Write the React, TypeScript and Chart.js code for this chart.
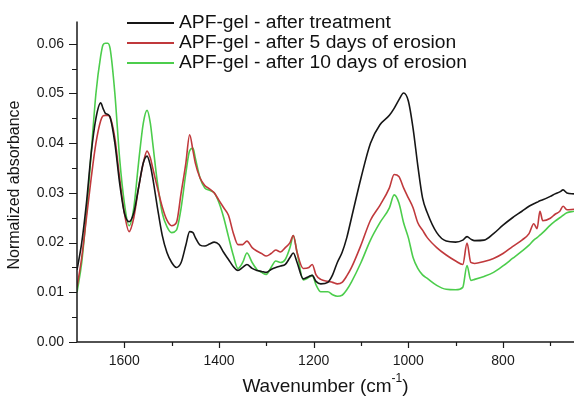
import React, { useEffect, useRef } from "react";
import { Chart, registerables } from "chart.js";

Chart.register(...registerables);

const wavenumbers = [
  1700, 1690, 1680, 1670, 1660, 1650, 1645, 1640, 1635, 1630, 1620, 1610, 1600, 1590, 1580, 1570,
  1560, 1552, 1545, 1540, 1530, 1520, 1510, 1500, 1490, 1480, 1470, 1462, 1455, 1450, 1440, 1430,
  1420, 1410, 1400, 1390, 1380, 1370, 1360, 1350, 1341, 1330, 1320, 1310, 1300, 1290, 1280, 1270,
  1260, 1250, 1243, 1235, 1222, 1210, 1203, 1195, 1185, 1170, 1160, 1150, 1140, 1130, 1120, 1100,
  1080, 1060, 1040, 1030, 1020, 1010, 1000, 990, 980, 970, 960, 940, 920, 900, 885, 876,
  868, 860, 840, 820, 800, 780, 760, 745, 735, 728, 722, 716, 700, 690, 680, 673,
  665, 650,
];

const afterTreatment = [
  0.0145, 0.02, 0.028, 0.038, 0.045, 0.0481, 0.047, 0.046, 0.0458, 0.0452, 0.04, 0.032, 0.026, 0.0242, 0.026, 0.031,
  0.036, 0.0374, 0.0355, 0.033, 0.027, 0.0215, 0.018, 0.016, 0.015, 0.016, 0.0195, 0.0222, 0.022, 0.021, 0.0195, 0.0193,
  0.0197, 0.0201, 0.0196, 0.018, 0.0166, 0.0152, 0.0144, 0.015, 0.0156, 0.0148, 0.0144, 0.0142, 0.014, 0.0146, 0.015, 0.0153,
  0.0156, 0.017, 0.0179, 0.016, 0.0127, 0.0132, 0.0134, 0.0122, 0.0117, 0.012, 0.0135, 0.016, 0.018, 0.021, 0.025, 0.033,
  0.04, 0.0437, 0.0456, 0.047, 0.0487, 0.0501, 0.0485, 0.043, 0.0355, 0.029, 0.026, 0.022, 0.0203, 0.0201, 0.0205, 0.0212,
  0.0207, 0.0204, 0.0205, 0.0218, 0.0235, 0.025, 0.0263, 0.0273, 0.0278, 0.0281, 0.0284, 0.0286, 0.0293, 0.0298, 0.0302, 0.0306,
  0.03, 0.0298,
];

const after5Days = [
  0.011, 0.017, 0.025, 0.033, 0.04, 0.0445, 0.0455, 0.0456, 0.0456, 0.0452, 0.041, 0.033, 0.026, 0.0222, 0.025, 0.031,
  0.036, 0.0384, 0.037, 0.035, 0.031, 0.0272, 0.0245, 0.0234, 0.024, 0.03, 0.036, 0.0417, 0.0385, 0.036, 0.033, 0.0315,
  0.0308, 0.03, 0.0285, 0.027, 0.0255, 0.022, 0.0196, 0.0196, 0.0203, 0.019, 0.0183, 0.0178, 0.0173, 0.0178, 0.0185, 0.0181,
  0.019, 0.02, 0.0214, 0.018, 0.0148, 0.015, 0.0156, 0.0135, 0.0126, 0.0122, 0.012, 0.0117, 0.012, 0.0133, 0.015, 0.0195,
  0.0245, 0.0275, 0.031, 0.0337, 0.0333, 0.031, 0.029, 0.027, 0.024, 0.0225, 0.021, 0.019, 0.0175, 0.0163, 0.0156, 0.0199,
  0.016, 0.0158, 0.0162, 0.0168, 0.0178, 0.0192, 0.0205, 0.0218, 0.0238, 0.0228, 0.0263, 0.0244, 0.0249, 0.0257, 0.0263, 0.0273,
  0.0266, 0.0267,
];

const after10Days = [
  0.01, 0.016, 0.026, 0.038, 0.05, 0.0575, 0.0598, 0.0601, 0.0601, 0.059, 0.05, 0.037, 0.028, 0.0234, 0.027, 0.036,
  0.044, 0.0466, 0.044, 0.04, 0.032, 0.026, 0.0232, 0.022, 0.0225, 0.027, 0.034, 0.0385, 0.039, 0.037, 0.033, 0.031,
  0.0305, 0.03, 0.028, 0.025, 0.0212, 0.0175, 0.0148, 0.016, 0.0179, 0.016, 0.0146, 0.014, 0.0136, 0.015, 0.0163, 0.016,
  0.0166, 0.019, 0.0214, 0.018, 0.0125, 0.013, 0.0134, 0.0115, 0.0101, 0.0101, 0.0095, 0.0092, 0.0094, 0.0105, 0.0121, 0.016,
  0.0205, 0.024, 0.027, 0.0296, 0.028, 0.024, 0.021, 0.017, 0.0148, 0.0135, 0.0128, 0.0114, 0.0106, 0.0105, 0.011, 0.0154,
  0.0124, 0.0126, 0.0132, 0.014, 0.0153, 0.0168, 0.0183, 0.0195, 0.0205, 0.021, 0.0215, 0.022, 0.0235, 0.0243, 0.025, 0.0255,
  0.026, 0.0263,
];

const seriesLabels = [
  "APF-gel - after treatment",
  "APF-gel - after 5 days of erosion",
  "APF-gel - after 10 days of erosion",
];
const seriesColors = ["#161616", "#c0393c", "#4ccd4c"];

const xMajorTicks = [1600, 1400, 1200, 1000, 800];
const xMinorTicks = [1500, 1300, 1100, 900, 700];
const yMajorTicks = [0, 0.01, 0.02, 0.03, 0.04, 0.05, 0.06];
const yMinorTicks = [0.005, 0.015, 0.025, 0.035, 0.045, 0.055];

const FONT = "'Liberation Sans', Arial, Helvetica, sans-serif";

const decorPlugin = {
  id: "decor",
  afterDraw(chart: any) {
    const { ctx, chartArea, scales } = chart;
    const xs = scales.x;
    const ys = scales.y;
    const left = chartArea.left;
    const bottom = chartArea.bottom;
    ctx.save();
    ctx.strokeStyle = "#1a1a1a";
    ctx.lineWidth = 1.5;
    ctx.beginPath();
    ctx.moveTo(left, chartArea.top);
    ctx.lineTo(left, bottom);
    ctx.lineTo(chartArea.right, bottom);
    ctx.stroke();
    ctx.lineWidth = 1.2;
    ctx.beginPath();
    yMajorTicks.forEach((v) => {
      const y = Math.round(ys.getPixelForValue(v)) + 0.5;
      ctx.moveTo(left - 8, y);
      ctx.lineTo(left, y);
    });
    yMinorTicks.forEach((v) => {
      const y = Math.round(ys.getPixelForValue(v)) + 0.5;
      ctx.moveTo(left - 5, y);
      ctx.lineTo(left, y);
    });
    xMajorTicks.forEach((v) => {
      const x = Math.round(xs.getPixelForValue(v)) + 0.5;
      ctx.moveTo(x, bottom);
      ctx.lineTo(x, bottom + 6);
    });
    xMinorTicks.forEach((v) => {
      const x = Math.round(xs.getPixelForValue(v)) + 0.5;
      ctx.moveTo(x, bottom);
      ctx.lineTo(x, bottom + 4);
    });
    ctx.stroke();

    // axis titles
    ctx.fillStyle = "#151515";
    ctx.font = `16px ${FONT}`;
    ctx.textAlign = "center";
    ctx.textBaseline = "middle";
    ctx.save();
    ctx.translate(15, 185);
    ctx.rotate(-Math.PI / 2);
    ctx.fillText("Normalized absorbance", 0, 0);
    ctx.restore();

    const mainA = "Wavenumber (cm";
    const sup = "-1";
    const mainB = ")";
    ctx.font = `19px ${FONT}`;
    const wA = ctx.measureText(mainA).width;
    const wB = ctx.measureText(mainB).width;
    ctx.font = `12px ${FONT}`;
    const wS = ctx.measureText(sup).width;
    const cx = (chartArea.left + chartArea.right) / 2;
    let x = cx - (wA + wS + wB) / 2;
    const ty = 387;
    ctx.textAlign = "left";
    ctx.font = `19px ${FONT}`;
    ctx.fillText(mainA, x, ty);
    x += wA;
    ctx.font = `12px ${FONT}`;
    ctx.fillText(sup, x, ty - 8);
    x += wS;
    ctx.font = `19px ${FONT}`;
    ctx.fillText(mainB, x, ty);

    // legend
    ctx.font = `18px ${FONT}`;
    ctx.textBaseline = "middle";
    seriesLabels.forEach((label, i) => {
      const y = 23 + i * 20;
      ctx.strokeStyle = seriesColors[i];
      ctx.lineWidth = 2;
      ctx.beginPath();
      ctx.moveTo(127, y);
      ctx.lineTo(174, y);
      ctx.stroke();
      ctx.fillStyle = "#111";
      ctx.save();
      ctx.translate(179, y);
      ctx.scale(1.07, 1);
      ctx.fillText(label, 0, 0);
      ctx.restore();
    });
    ctx.restore();
  },
};

export default function App() {
  const canvasRef = useRef<HTMLCanvasElement | null>(null);

  useEffect(() => {
    const canvas = canvasRef.current;
    if (!canvas) return;
    const seriesValues = [afterTreatment, after5Days, after10Days];
    const chart = new Chart(canvas, {
      type: "line",
      data: {
        datasets: seriesValues.map((vals, i) => ({
          label: seriesLabels[i],
          data: wavenumbers.map((w, j) => ({ x: w, y: vals[j] })),
          borderColor: seriesColors[i],
          borderWidth: 1.6,
          pointRadius: 0,
          fill: false,
          cubicInterpolationMode: "monotone" as const,
        })),
      },
      options: {
        responsive: false,
        animation: false,
        devicePixelRatio: 1,
        layout: { padding: { top: 10, right: 0, left: 0, bottom: 0 } },
        plugins: { legend: { display: false }, tooltip: { enabled: false } },
        scales: {
          x: {
            type: "linear",
            min: 650,
            max: 1700,
            reverse: true,
            grid: { display: false, drawTicks: false },
            border: { display: false },
            afterBuildTicks: (scale: any) => {
              scale.ticks = xMajorTicks.map((v) => ({ value: v }));
            },
            afterFit: (scale: any) => {
              scale.height = 54;
            },
            ticks: {
              padding: 11,
              color: "#1a1a1a",
              font: { family: FONT, size: 14 },
              maxRotation: 0,
              callback: (v: any) => String(v),
            },
          },
          y: {
            type: "linear",
            min: 0,
            max: 0.0645,
            grid: { display: false, drawTicks: false },
            border: { display: false },
            afterBuildTicks: (scale: any) => {
              scale.ticks = yMajorTicks.map((v) => ({ value: v }));
            },
            afterFit: (scale: any) => {
              scale.width = 77;
            },
            ticks: {
              padding: 13,
              color: "#1a1a1a",
              font: { family: FONT, size: 14 },
              callback: (v: any) => Number(v).toFixed(2),
            },
          },
        },
      },
      plugins: [decorPlugin],
    });
    return () => chart.destroy();
  }, []);

  return (
    <div style={{ position: "fixed", left: 0, top: 0, width: 574, height: 396, background: "#fff" }}>
      <canvas ref={canvasRef} width={574} height={396} style={{ display: "block", width: 574, height: 396 }} />
    </div>
  );
}
